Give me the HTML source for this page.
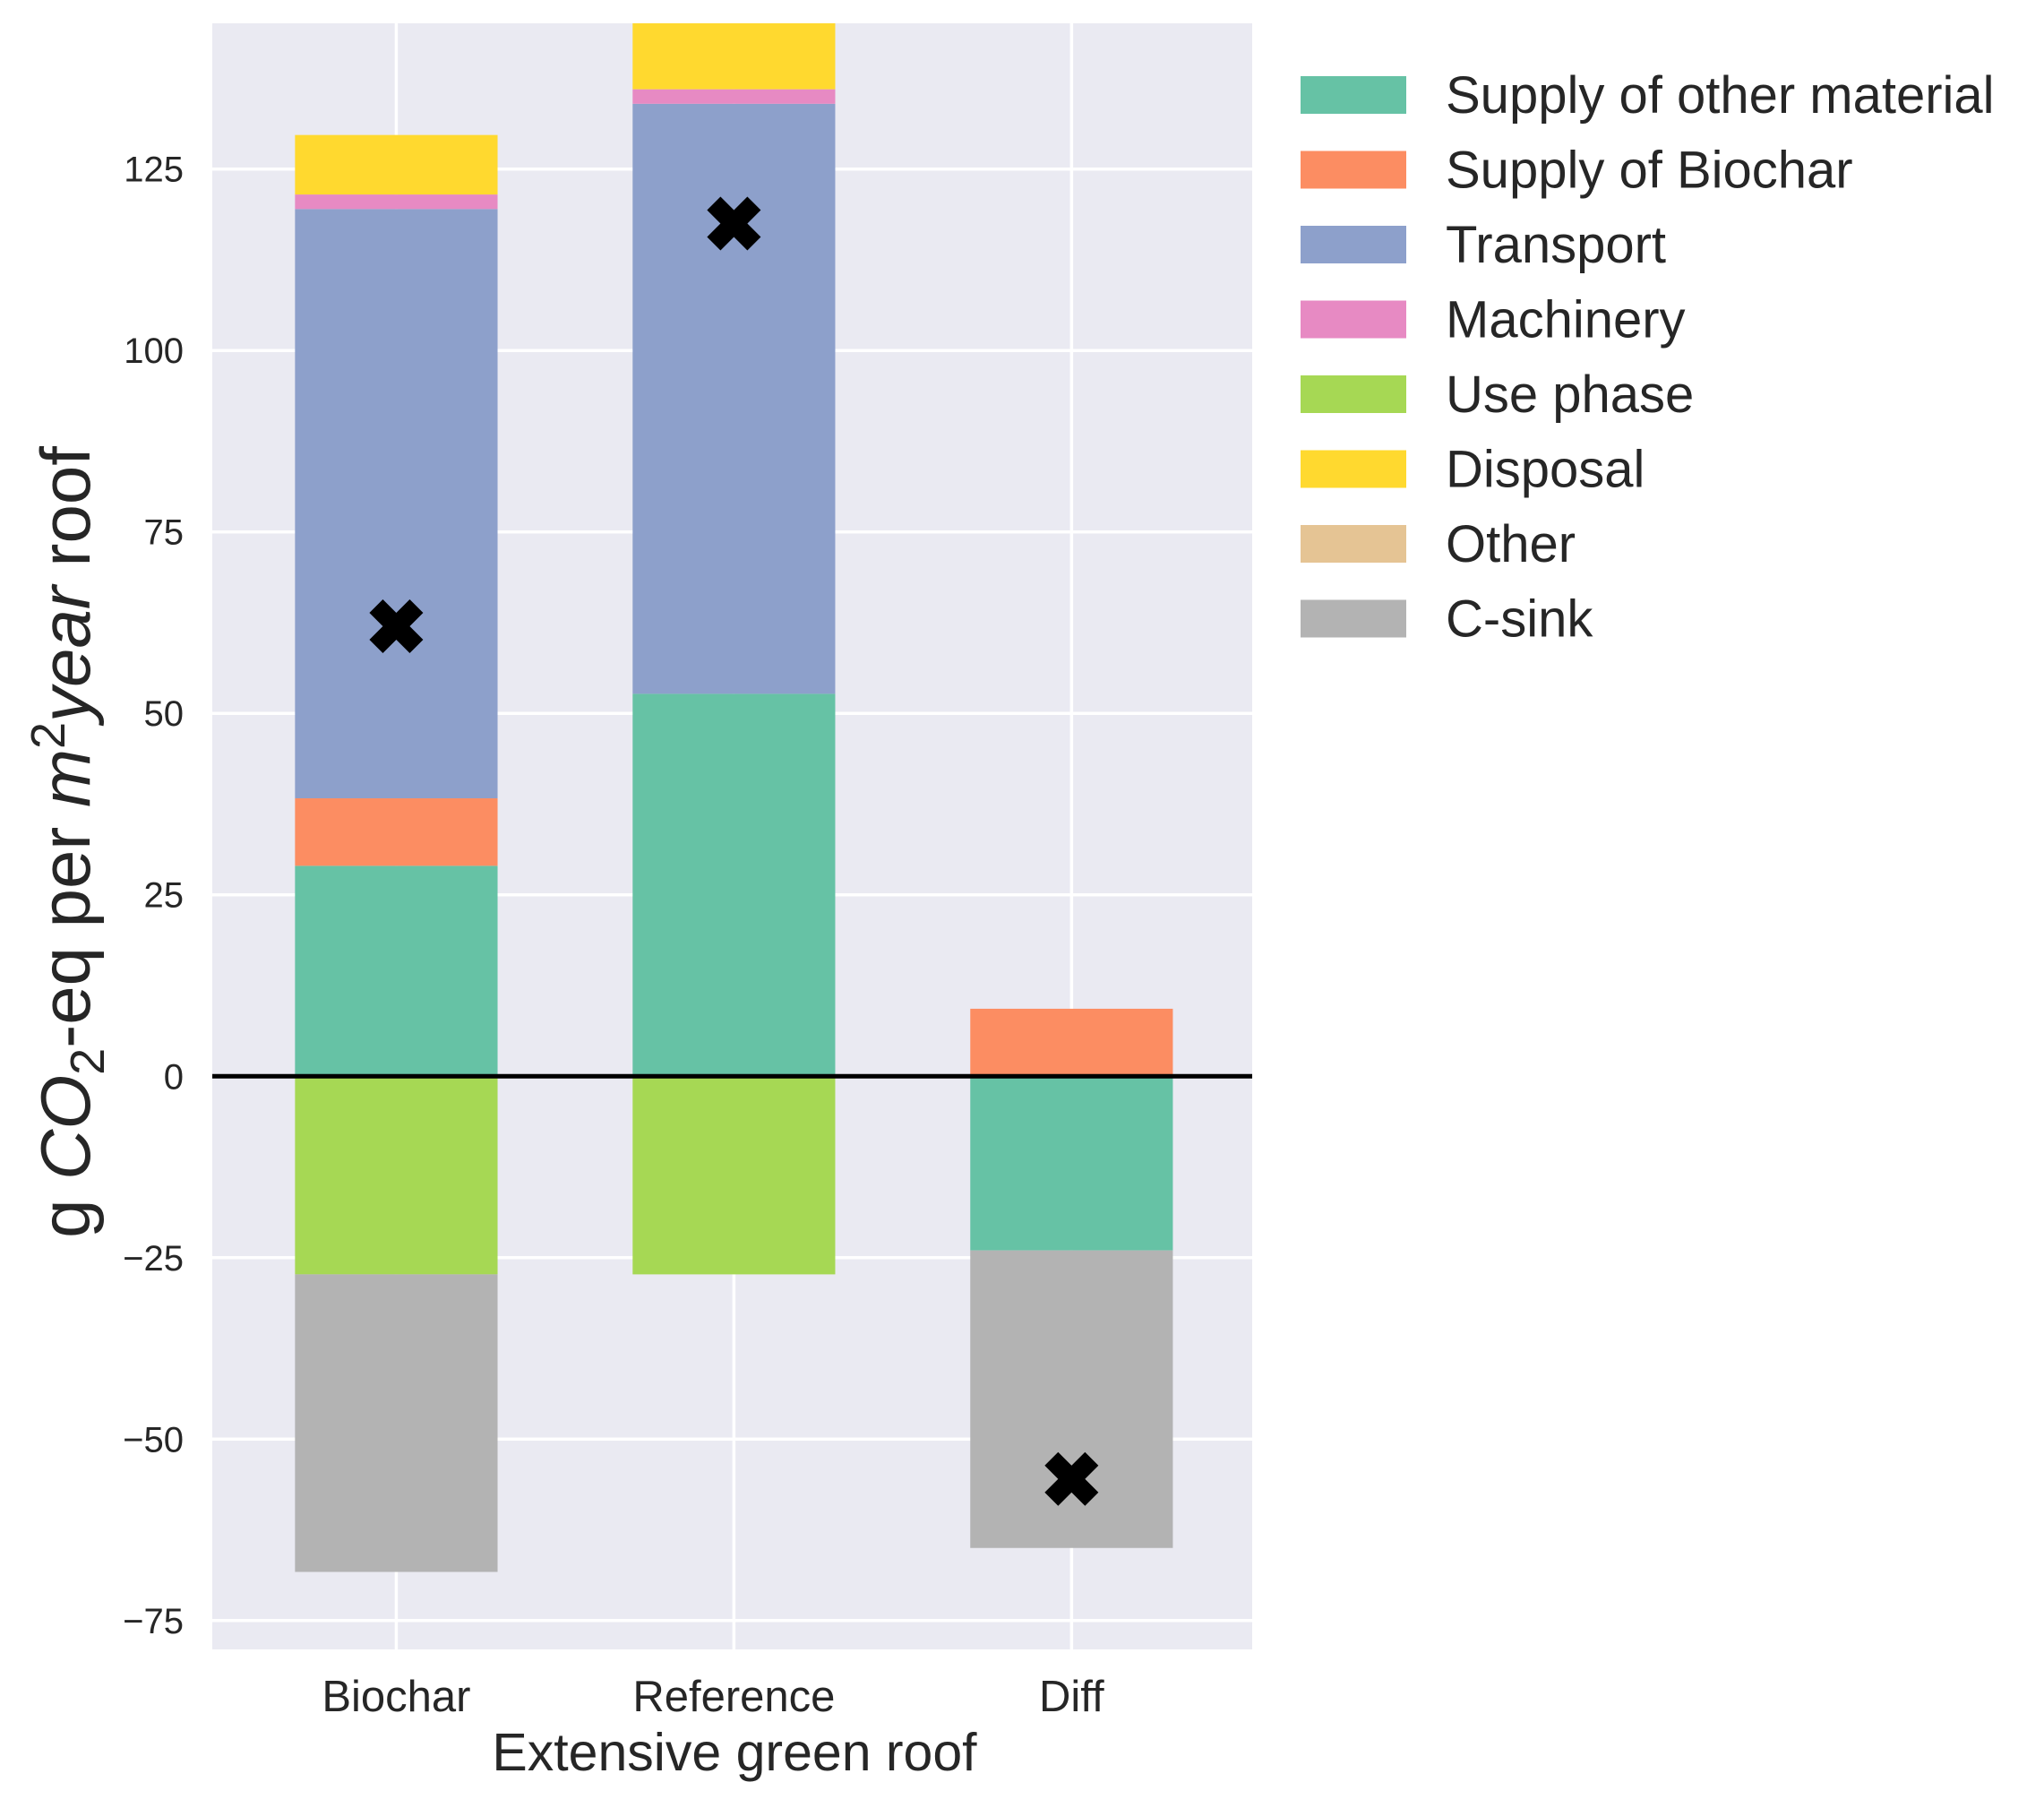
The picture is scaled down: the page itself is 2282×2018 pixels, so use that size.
<!DOCTYPE html>
<html><head><meta charset="utf-8"><style>
html,body{margin:0;padding:0;background:#fff;}
svg{display:block;font-family:"Liberation Sans",Arial,sans-serif;}
</style></head><body>
<svg id="chart" width="2282" height="2018" viewBox="0 0 2282 2018" xmlns="http://www.w3.org/2000/svg">
<rect x="0" y="0" width="2282" height="2018" fill="#ffffff"/>
<rect x="237" y="26" width="1161" height="1815" fill="#EAEAF2"/>
<g id="grid"></g>
<g id="bars"></g>
<g id="markers"></g>
<g id="yticks"></g>
<g id="xticks"></g>
<text x="820" y="1976" text-anchor="middle" font-size="59" fill="#262626">Extensive green roof</text>
<text transform="translate(100,940) rotate(-90)" text-anchor="middle" font-size="78" fill="#262626">g <tspan font-style="italic">CO</tspan><tspan font-size="54" dy="16">2</tspan><tspan dy="-16">-eq per </tspan><tspan font-style="italic">m</tspan><tspan font-size="54" dy="-28">2</tspan><tspan font-style="italic" dy="28">year</tspan> roof</text>
<g id="legend"></g>
</svg>
<script>
const categories = ["Biochar", "Reference", "Diff"];
const seriesNames = ["Supply of other material", "Supply of Biochar", "Transport", "Machinery", "Use phase", "Disposal", "Other", "C-sink"];
const seriesColors = ["#66c2a5", "#fc8d62", "#8da0cb", "#e78ac3", "#a6d854", "#ffd92f", "#e5c494", "#b3b3b3"];
const otherMaterial = [29, 52.7, -24];
const supplyBiochar = [9.3, 0, 9.3];
const transport = [81.2, 81.3, 0];
const machinery = [2, 2, 0];
const usePhase = [-27.3, -27.3, 0];
const disposal = [8.2, 12, 0];
const other = [0, 0, 0];
const cSink = [-41, 0, -41];
const totals = [62, 117.5, -55.5];
const yTicks = [-75, -50, -25, 0, 25, 50, 75, 100, 125];
const yTickLabels = ["\u221275", "\u221250", "\u221225", "0", "25", "50", "75", "100", "125"];

const NS = "http://www.w3.org/2000/svg";
const plotL = 237, plotR = 1398, plotT = 26, plotB = 1841;
const yMin = -78.98, yMax = 145.09;
const xMin = -0.545, xMax = 2.535;
function yS(v){ return plotB - (v - yMin) / (yMax - yMin) * (plotB - plotT); }
function xS(i){ return plotL + (i - xMin) / (xMax - xMin) * (plotR - plotL); }
function mk(tag, attrs, parent){ const e = document.createElementNS(NS, tag); for (const k in attrs) e.setAttribute(k, attrs[k]); parent.appendChild(e); return e; }

const grid = document.getElementById("grid");
yTicks.forEach(t => {
  const l = mk("line", {x1: plotL, x2: plotR, y1: yS(t), y2: yS(t), stroke: "#fff", "stroke-width": 3.5}, grid);
  
  
});
categories.forEach((c, i) => {
  const l = mk("line", {x1: xS(i), x2: xS(i), y1: plotT, y2: plotB, stroke: "#fff", "stroke-width": 3.5}, grid);
  
  
});

const series = [otherMaterial, supplyBiochar, transport, machinery, usePhase, disposal, other, cSink];
const bars = document.getElementById("bars");
const bw = 0.6;
const clip = mk("clipPath", {id: "pc"}, mk("defs", {}, bars));
mk("rect", {x: plotL, y: plotT, width: plotR - plotL, height: plotB - plotT}, clip);
categories.forEach((c, i) => {
  let pos = 0, neg = 0;
  series.forEach((s, k) => {
    const v = s[i];
    if (v === 0) return;
    let a, b;
    if (v > 0) { a = pos; b = pos + v; pos = b; } else { a = neg; b = neg + v; neg = b; }
    const y1 = yS(Math.max(a, b)), y2 = yS(Math.min(a, b));
    const r = mk("rect", {x: xS(i - bw/2), y: y1, width: xS(i + bw/2) - xS(i - bw/2), height: y2 - y1, fill: seriesColors[k], "clip-path": "url(#pc)"}, bars);
    
    
  });
});
const zl = mk("line", {x1: plotL, x2: plotR, y1: yS(0), y2: yS(0), stroke: "#000", "stroke-width": 5}, bars);



const markers = document.getElementById("markers");
const s = 30;
const xp = [[-1,-0.5],[-0.5,-1],[0,-0.5],[0.5,-1],[1,-0.5],[0.5,0],[1,0.5],[0.5,1],[0,0.5],[-0.5,1],[-1,0.5],[-0.5,0]];
totals.forEach((v, i) => {
  const cx = xS(i), cy = yS(v);
  const p = mk("polygon", {points: xp.map(q => (cx + q[0]*s) + "," + (cy + q[1]*s)).join(" "), fill: "#000"}, markers);
  
  
});

const yt = document.getElementById("yticks");
yTicks.forEach((t, k) => {
  const tx = mk("text", {x: 205, y: yS(t) + 14, "text-anchor": "end", "font-size": 40, fill: "#262626"}, yt);
  tx.textContent = yTickLabels[k];
  
  
});
const xt = document.getElementById("xticks");
categories.forEach((c, i) => {
  const tx = mk("text", {x: xS(i), y: 1910, "text-anchor": "middle", "font-size": 49, fill: "#262626"}, xt);
  tx.textContent = c;
  
  
});

const lg = document.getElementById("legend");
seriesNames.forEach((n, k) => {
  const cy = 106 + k * 83.5;
  const r = mk("rect", {x: 1452, y: cy - 21, width: 118, height: 42, fill: seriesColors[k]}, lg);
  
  
  const t = mk("text", {x: 1614, y: cy + 20, "font-size": 58, fill: "#262626"}, lg);
  t.textContent = n;
  
  
});
</script>
</body></html>
